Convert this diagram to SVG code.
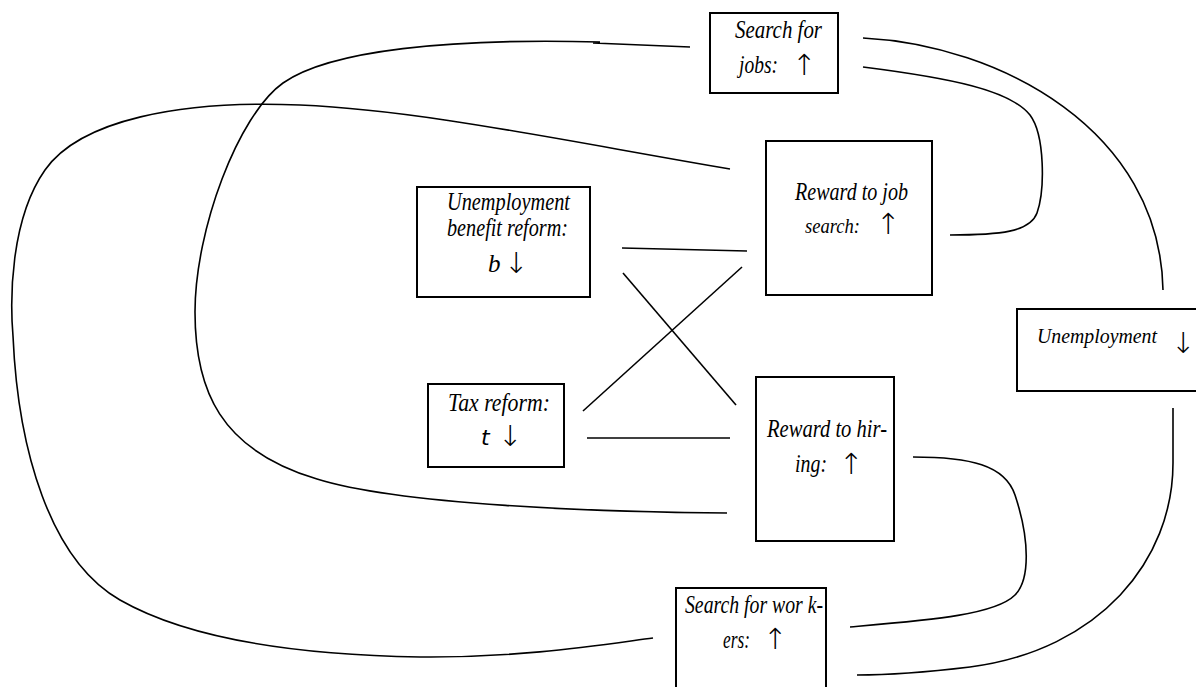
<svg xmlns="http://www.w3.org/2000/svg" width="1196" height="687" viewBox="0 0 1196 687">
<style>
.box{fill:#fff;stroke:#000;stroke-width:2}
.c{fill:none;stroke:#000;stroke-width:1.6}
.t{font-family:"Liberation Serif",serif;font-style:italic;font-size:25px;fill:#000}
.ar{font-family:"DejaVu Sans",sans-serif;font-style:normal;font-weight:200;font-size:29px;fill:#000}
.m{font-family:"DejaVu Sans",sans-serif;font-style:italic;font-size:22px;fill:#000}
</style>
<rect width="1196" height="687" fill="#fff"/>
<g id="connectors">
<path class="c" d="M622,248 L747,251"/>
<path class="c" d="M623,273 L736,405"/>
<path class="c" d="M742,267 L583,411"/>
<path class="c" d="M587,438 L730,438"/>
<path class="c" d="M690,47 L593,43 M600,42 C450,38 330,50 283,83 C238,115 195,230 195,312 C195,390 220,450 317,479 C400,505 600,512 727,513"/>
<path class="c" d="M730,169 C560,140 420,110 300,105 C180,100 80,120 45,170 C10,220 10,300 13,336 C18,450 50,560 120,600 C190,640 300,655 420,657 C520,658 600,645 653,638"/>
<path class="c" d="M863,38 C1000,45 1160,130 1163,290"/>
<path class="c" d="M863,67 C950,78 1010,90 1030,115 C1045,135 1045,190 1037,213 C1030,232 1000,235 950,235"/>
<path class="c" d="M913,457 C970,457 1005,465 1015,495 C1030,540 1030,580 1015,595 C995,615 930,620 850,627"/>
<path class="c" d="M1173,408 L1173,463 C1173,560 1100,650 970,667 C920,673 880,675 857,675"/>
</g>
<g id="search-jobs">
<rect class="box" x="710" y="13" width="128" height="80"/>
<text class="t" x="735" y="38" textLength="87" lengthAdjust="spacingAndGlyphs">Search for</text>
<text class="t" x="739" y="73" textLength="39" lengthAdjust="spacingAndGlyphs">jobs:</text>
<text class="ar" x="792" y="75">↑</text>
</g>
<g id="reward-job-search">
<rect class="box" x="766" y="141" width="166" height="154"/>
<text class="t" x="795" y="200" textLength="113" lengthAdjust="spacingAndGlyphs">Reward to job</text>
<text class="t" x="805" y="233" style="font-size:22px" textLength="55" lengthAdjust="spacingAndGlyphs">search:</text>
<text class="ar" x="876" y="234">↑</text>
</g>
<g id="benefit-reform">
<rect class="box" x="417" y="187" width="173" height="110"/>
<text class="t" x="447" y="210" textLength="123" lengthAdjust="spacingAndGlyphs">Unemployment</text>
<text class="t" x="447" y="236" textLength="121" lengthAdjust="spacingAndGlyphs">benefit reform:</text>
<text class="t" x="488" y="272">b</text>
<text class="ar" x="504" y="273">↓</text>
</g>
<g id="tax-reform">
<rect class="box" x="428" y="384" width="136" height="83"/>
<text class="t" x="448" y="411" textLength="102" lengthAdjust="spacingAndGlyphs">Tax reform:</text>
<text class="m" x="481" y="445">t</text>
<text class="ar" x="498" y="446">↓</text>
</g>
<g id="reward-hiring">
<rect class="box" x="756" y="377" width="138" height="164"/>
<text class="t" x="767" y="437" textLength="120" lengthAdjust="spacingAndGlyphs">Reward to hir-</text>
<text class="t" x="795" y="472" textLength="32" lengthAdjust="spacingAndGlyphs">ing:</text>
<text class="ar" x="839" y="474">↑</text>
</g>
<g id="search-workers">
<rect class="box" x="676" y="588" width="150" height="110"/>
<text class="t" x="685" y="613" textLength="138" lengthAdjust="spacingAndGlyphs">Search for wor k-</text>
<text class="t" x="723" y="648" textLength="27" lengthAdjust="spacingAndGlyphs">ers:</text>
<text class="ar" x="763" y="649">↑</text>
</g>
<g id="unemployment">
<rect class="box" x="1017" y="309" width="200" height="82"/>
<text class="t" x="1037" y="343" style="font-size:21px" textLength="120" lengthAdjust="spacingAndGlyphs">Unemployment</text>
<text class="ar" x="1171" y="353">↓</text>
</g>
</svg>
